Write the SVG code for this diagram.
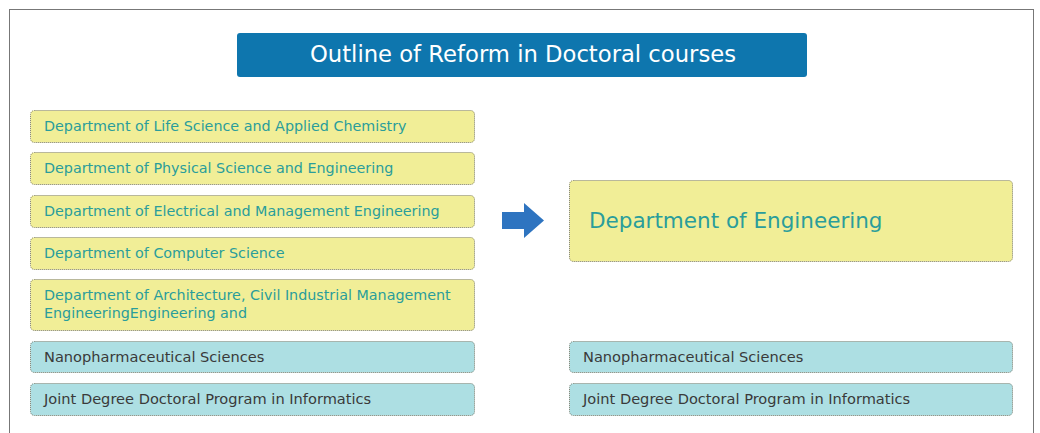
<svg xmlns="http://www.w3.org/2000/svg" width="1040" height="433" viewBox="0 0 1040 433">
<style>
.box{stroke:#7a7a6a;stroke-width:1;stroke-dasharray:1 1}
.y{fill:#f1ee97}
.c{fill:#addfe3}
.t{font-family:"DejaVu Sans",Verdana,sans-serif;font-size:14.3px}
.ty{fill:#2a9d9b}
.tc{fill:#3a3a3a;font-size:14.6px}
</style>
<rect x="9.5" y="9.5" width="1024" height="430" fill="#fff" stroke="#777" stroke-width="1"/>
<g id="title">
<rect x="237" y="33" width="570" height="44" rx="3" fill="#0e76ae"/>
<text x="523" y="62" text-anchor="middle" font-family="DejaVu Sans,Verdana,sans-serif" font-size="22.7" fill="#fff">Outline of Reform in Doctoral courses</text>
</g>
<g id="n1"><rect class="box y" x="30.5" y="110.5" width="444" height="32" rx="4"/><text class="t ty" x="44" y="131">Department of Life Science and Applied Chemistry</text></g>
<g id="n2"><rect class="box y" x="30.5" y="152.5" width="444" height="32" rx="4"/><text class="t ty" x="44" y="173">Department of Physical Science and Engineering</text></g>
<g id="n3"><rect class="box y" x="30.5" y="195.5" width="444" height="32" rx="4"/><text class="t ty" x="44" y="216">Department of Electrical and Management Engineering</text></g>
<g id="n4"><rect class="box y" x="30.5" y="237.5" width="444" height="32" rx="4"/><text class="t ty" x="44" y="258">Department of Computer Science</text></g>
<g id="n5"><rect class="box y" x="30.5" y="279.5" width="444" height="51" rx="4"/><text class="t ty" x="44" y="299.5">Department of Architecture, Civil Industrial Management</text><text class="t ty" x="44" y="317.5">EngineeringEngineering and</text></g>
<g id="n6"><rect class="box c" x="30.5" y="341.5" width="444" height="31" rx="4"/><text class="t tc" x="44" y="362">Nanopharmaceutical Sciences</text></g>
<g id="n7"><rect class="box c" x="30.5" y="383.5" width="444" height="32" rx="4"/><text class="t tc" x="44" y="404">Joint Degree Doctoral Program in Informatics</text></g>
<g id="n8"><rect class="box y" x="569.5" y="180.5" width="443" height="81" rx="4"/><text x="589" y="228" font-family="DejaVu Sans,Verdana,sans-serif" font-size="21.5" fill="#2a9d9b">Department of Engineering</text></g>
<g id="n9"><rect class="box c" x="569.5" y="341.5" width="443" height="31" rx="4"/><text class="t tc" x="583" y="362">Nanopharmaceutical Sciences</text></g>
<g id="n10"><rect class="box c" x="569.5" y="383.5" width="443" height="32" rx="4"/><text class="t tc" x="583" y="404">Joint Degree Doctoral Program in Informatics</text></g>
<g id="connectors">
<path d="M502 212 H524 V203 L544 220.5 L524 238 V229 H502 Z" fill="#2e74c0"/>
</g>
</svg>
